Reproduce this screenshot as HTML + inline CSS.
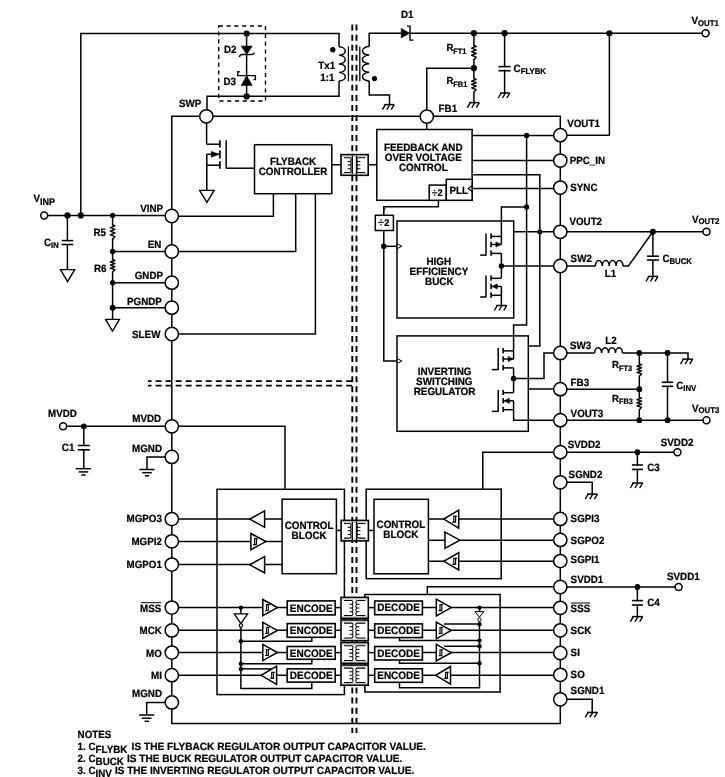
<!DOCTYPE html>
<html><head><meta charset="utf-8"><title>Block diagram</title>
<style>
html,body{margin:0;padding:0;background:#fff;}
body{width:725px;height:777px;overflow:hidden;}
svg{display:block;will-change:transform;}
text{font-family:"Liberation Sans",sans-serif;font-weight:bold;fill:#000;stroke:#000;stroke-width:0.22px;text-rendering:geometricPrecision;}
</style></head><body>
<svg width="725" height="777" viewBox="0 0 725 777">
<rect x="0" y="0" width="725" height="777" fill="#fff"/>
<line x1="352.30" y1="24.60" x2="352.30" y2="733.00" stroke="#000" stroke-width="1.9" stroke-dasharray="6.0 4.045"/>
<line x1="356.50" y1="24.60" x2="356.50" y2="733.00" stroke="#000" stroke-width="1.9" stroke-dasharray="6.0 4.045"/>
<line x1="147.90" y1="381.10" x2="357.40" y2="381.10" stroke="#000" stroke-width="1.8" stroke-dasharray="5.9 4.13" stroke-dashoffset="2.3"/>
<line x1="147.90" y1="385.60" x2="353.20" y2="385.60" stroke="#000" stroke-width="1.8" stroke-dasharray="5.9 4.13" stroke-dashoffset="2.3"/>
<polyline points="206.30,116.30 171.80,116.30 171.80,723.50 560.30,723.50 560.30,116.30 206.30,116.30" fill="none" stroke="#000" stroke-width="1.5" />
<polyline points="80.80,215.40 80.80,33.40 339.00,33.40 339.00,46.80" fill="none" stroke="#000" stroke-width="1.5" />
<polyline points="339.00,81.00 339.00,96.30 207.00,96.30 207.00,116.30" fill="none" stroke="#000" stroke-width="1.5" />
<path d="M339.00,46.80 a6.60,4.28 0 0 1 0,8.55 a6.60,4.28 0 0 1 0,8.55 a6.60,4.28 0 0 1 0,8.55 a6.60,4.28 0 0 1 0,8.55" fill="none" stroke="#000" stroke-width="1.5" />
<circle cx="332.80" cy="49.70" r="2.7" fill="#000"/>
<line x1="348.40" y1="46.50" x2="348.40" y2="81.30" stroke="#000" stroke-width="1.3" />
<line x1="359.80" y1="46.50" x2="359.80" y2="81.30" stroke="#000" stroke-width="1.3" />
<path d="M369.20,46.50 a6.80,4.30 0 0 0 0,8.60 a6.80,4.30 0 0 0 0,8.60 a6.80,4.30 0 0 0 0,8.60 a6.80,4.30 0 0 0 0,8.60" fill="none" stroke="#000" stroke-width="1.5" />
<polyline points="369.20,46.50 369.20,33.20 401.00,33.20" fill="none" stroke="#000" stroke-width="1.5" />
<polyline points="369.20,80.90 369.20,95.00 389.50,95.00 389.50,104.60" fill="none" stroke="#000" stroke-width="1.5" />
<line x1="384.20" y1="104.60" x2="394.20" y2="104.60" stroke="#000" stroke-width="1.5" />
<line x1="385.40" y1="104.60" x2="382.40" y2="109.60" stroke="#000" stroke-width="1.4" />
<line x1="389.80" y1="104.60" x2="386.80" y2="109.60" stroke="#000" stroke-width="1.4" />
<line x1="394.20" y1="104.60" x2="391.20" y2="109.60" stroke="#000" stroke-width="1.4" />
<circle cx="374.50" cy="78.60" r="2.6" fill="#000"/>
<rect x="218.70" y="26.00" width="46.80" height="75.00" fill="none" stroke="#000" stroke-width="1.4" stroke-dasharray="4.2 3.6"/>
<line x1="246.60" y1="33.40" x2="246.60" y2="96.30" stroke="#000" stroke-width="1.5" />
<circle cx="246.60" cy="33.50" r="3.1" fill="#000"/>
<circle cx="246.60" cy="96.40" r="3.1" fill="#000"/>
<path d="M241.2,46.1 H252.2 L246.7,54.6 Z" fill="#000" stroke="#000" stroke-width="0.6" />
<path d="M239.4,57.2 q0.4,-2.6 2.6,-2.7 H251.6 q2.4,-0.1 2.8,-1.8" fill="none" stroke="#000" stroke-width="1.4" />
<path d="M241.2,85.4 H252.2 L246.7,75.8 Z" fill="#000" stroke="#000" stroke-width="0.6" />
<path d="M239.8,71.8 H237.8 V75.6 H255.4 V79.6 H253.6" fill="none" stroke="#000" stroke-width="1.4" />
<text transform="translate(224.00,52.50) scale(1,1.07)" font-size="9.8" text-anchor="start" >D2</text>
<text transform="translate(223.40,84.70) scale(1,1.07)" font-size="9.8" text-anchor="start" >D3</text>
<text transform="translate(335.20,68.50) scale(1,1.07)" font-size="9.8" text-anchor="end" >Tx1</text>
<text transform="translate(334.40,80.90) scale(1,1.07)" font-size="9.8" text-anchor="end" >1:1</text>
<text transform="translate(201.30,107.40) scale(1,1.07)" font-size="9.8" text-anchor="end" >SWP</text>
<line x1="409.00" y1="33.20" x2="705.60" y2="33.20" stroke="#000" stroke-width="1.5" />
<path d="M401.2,28.4 V38 L409.6,33.2 Z" fill="#000" stroke="#000" stroke-width="0.6" />
<path d="M406.9,26.1 H410 V40.1 H413.5" fill="none" stroke="#000" stroke-width="1.4" />
<text transform="translate(400.90,17.80) scale(1,1.07)" font-size="9.8" text-anchor="start" >D1</text>
<circle cx="473.90" cy="33.20" r="3.1" fill="#000"/>
<circle cx="504.60" cy="33.20" r="3.1" fill="#000"/>
<circle cx="609.40" cy="33.30" r="3.1" fill="#000"/>
<circle cx="705.60" cy="33.30" r="3.5" fill="#fff" stroke="#000" stroke-width="1.5"/>
<text transform="translate(691.40,24.00) scale(1,1.07)" font-size="9.8" text-anchor="start">V<tspan font-size="7.8" dy="1.50">OUT1</tspan></text>
<line x1="473.90" y1="33.20" x2="473.90" y2="46.20" stroke="#000" stroke-width="1.5" />
<polyline points="473.90,45.50 476.20,46.39 471.60,48.16 476.20,49.94 471.60,51.71 476.20,53.49 471.60,55.26 476.20,57.04 473.90,59.70" fill="none" stroke="#000" stroke-width="1.4" stroke-linejoin="round"/>
<line x1="473.90" y1="59.00" x2="473.90" y2="79.20" stroke="#000" stroke-width="1.5" />
<polyline points="473.90,78.50 476.20,79.35 471.60,81.05 476.20,82.75 471.60,84.45 476.20,86.15 471.60,87.85 476.20,89.55 473.90,92.10" fill="none" stroke="#000" stroke-width="1.4" stroke-linejoin="round"/>
<line x1="473.90" y1="91.40" x2="473.90" y2="102.60" stroke="#000" stroke-width="1.5" />
<line x1="469.10" y1="102.60" x2="479.30" y2="102.60" stroke="#000" stroke-width="1.5" />
<line x1="470.30" y1="102.60" x2="467.30" y2="107.60" stroke="#000" stroke-width="1.4" />
<line x1="474.80" y1="102.60" x2="471.80" y2="107.60" stroke="#000" stroke-width="1.4" />
<line x1="479.30" y1="102.60" x2="476.30" y2="107.60" stroke="#000" stroke-width="1.4" />
<circle cx="473.90" cy="68.20" r="3.1" fill="#000"/>
<polyline points="473.90,68.20 426.80,68.20 426.80,116.30" fill="none" stroke="#000" stroke-width="1.5" />
<text transform="translate(446.40,51.20) scale(1,1.07)" font-size="9.6" text-anchor="start">R<tspan font-size="7.4" dy="2.24">FT1</tspan></text>
<text transform="translate(446.40,84.20) scale(1,1.07)" font-size="9.6" text-anchor="start">R<tspan font-size="7.4" dy="2.24">FB1</tspan></text>
<line x1="504.60" y1="33.20" x2="504.60" y2="66.60" stroke="#000" stroke-width="1.5" />
<line x1="498.50" y1="66.60" x2="510.70" y2="66.60" stroke="#000" stroke-width="1.6" />
<line x1="498.50" y1="70.70" x2="510.70" y2="70.70" stroke="#000" stroke-width="1.6" />
<line x1="504.60" y1="70.70" x2="504.60" y2="93.00" stroke="#000" stroke-width="1.5" />
<line x1="500.00" y1="93.00" x2="509.80" y2="93.00" stroke="#000" stroke-width="1.5" />
<line x1="501.20" y1="93.00" x2="498.20" y2="98.00" stroke="#000" stroke-width="1.4" />
<line x1="505.50" y1="93.00" x2="502.50" y2="98.00" stroke="#000" stroke-width="1.4" />
<line x1="509.80" y1="93.00" x2="506.80" y2="98.00" stroke="#000" stroke-width="1.4" />
<text transform="translate(513.60,72.00) scale(1,1.07)" font-size="9.8" text-anchor="start">C<tspan font-size="7.8" dy="1.87">FLYBK</tspan></text>
<polyline points="609.40,33.30 609.40,135.20 560.30,135.20" fill="none" stroke="#000" stroke-width="1.5" />
<line x1="44.20" y1="215.40" x2="171.80" y2="215.40" stroke="#000" stroke-width="1.5" />
<circle cx="44.20" cy="215.40" r="3.5" fill="#fff" stroke="#000" stroke-width="1.5"/>
<circle cx="67.40" cy="215.40" r="3.1" fill="#000"/>
<circle cx="80.80" cy="215.40" r="3.1" fill="#000"/>
<circle cx="112.60" cy="215.40" r="2.6" fill="#000"/>
<text transform="translate(33.40,202.30) scale(1,1.07)" font-size="9.8" text-anchor="start">V<tspan font-size="9.0" dy="2.80">INP</tspan></text>
<line x1="67.40" y1="215.40" x2="67.40" y2="240.60" stroke="#000" stroke-width="1.5" />
<line x1="61.60" y1="240.60" x2="73.20" y2="240.60" stroke="#000" stroke-width="1.6" />
<line x1="61.60" y1="244.50" x2="73.20" y2="244.50" stroke="#000" stroke-width="1.6" />
<line x1="67.40" y1="244.50" x2="67.40" y2="269.60" stroke="#000" stroke-width="1.5" />
<path d="M60.50,269.60 H74.70 L67.60,281.60 Z" fill="#fff" stroke="#000" stroke-width="1.4" />
<text transform="translate(44.00,245.80) scale(1,1.07)" font-size="9.8" text-anchor="start">C<tspan font-size="7.6" dy="1.87">IN</tspan></text>
<line x1="112.60" y1="215.40" x2="112.60" y2="225.60" stroke="#000" stroke-width="1.5" />
<polyline points="112.60,224.90 114.90,225.80 110.30,227.60 114.90,229.40 110.30,231.20 114.90,233.00 110.30,234.80 114.90,236.60 112.60,239.30" fill="none" stroke="#000" stroke-width="1.4" stroke-linejoin="round"/>
<line x1="112.60" y1="238.60" x2="112.60" y2="260.40" stroke="#000" stroke-width="1.5" />
<polyline points="112.60,259.70 114.90,260.47 110.30,262.02 114.90,263.57 110.30,265.12 114.90,266.68 110.30,268.23 114.90,269.78 112.60,272.10" fill="none" stroke="#000" stroke-width="1.4" stroke-linejoin="round"/>
<line x1="112.60" y1="271.40" x2="112.60" y2="319.40" stroke="#000" stroke-width="1.5" />
<circle cx="112.60" cy="251.50" r="2.7" fill="#000"/>
<circle cx="112.60" cy="282.80" r="2.7" fill="#000"/>
<circle cx="112.60" cy="307.80" r="3.0" fill="#000"/>
<line x1="112.60" y1="251.50" x2="171.80" y2="251.50" stroke="#000" stroke-width="1.5" />
<line x1="112.60" y1="282.80" x2="171.80" y2="282.80" stroke="#000" stroke-width="1.5" />
<line x1="112.60" y1="307.80" x2="171.80" y2="307.80" stroke="#000" stroke-width="1.5" />
<path d="M105.60,319.40 H119.40 L112.50,331.20 Z" fill="#fff" stroke="#000" stroke-width="1.4" />
<text transform="translate(93.40,236.00) scale(1,1.07)" font-size="9.8" text-anchor="start" >R5</text>
<text transform="translate(93.90,271.50) scale(1,1.07)" font-size="9.8" text-anchor="start" >R6</text>
<line x1="63.10" y1="426.30" x2="171.80" y2="426.30" stroke="#000" stroke-width="1.5" />
<circle cx="63.10" cy="426.30" r="3.5" fill="#fff" stroke="#000" stroke-width="1.5"/>
<circle cx="83.80" cy="426.30" r="2.9" fill="#000"/>
<line x1="83.80" y1="426.30" x2="83.80" y2="445.50" stroke="#000" stroke-width="1.5" />
<line x1="77.80" y1="445.50" x2="89.80" y2="445.50" stroke="#000" stroke-width="1.6" />
<line x1="77.80" y1="449.80" x2="89.80" y2="449.80" stroke="#000" stroke-width="1.6" />
<line x1="83.80" y1="449.80" x2="83.80" y2="468.70" stroke="#000" stroke-width="1.5" />
<line x1="75.80" y1="468.70" x2="91.00" y2="468.70" stroke="#000" stroke-width="1.5" />
<line x1="78.60" y1="471.90" x2="88.20" y2="471.90" stroke="#000" stroke-width="1.5" />
<line x1="81.20" y1="475.00" x2="85.60" y2="475.00" stroke="#000" stroke-width="1.5" />
<text transform="translate(48.00,417.10) scale(1,1.07)" font-size="9.8" text-anchor="start" >MVDD</text>
<text transform="translate(61.80,450.70) scale(1,1.07)" font-size="9.8" text-anchor="start" >C1</text>
<polyline points="171.80,456.90 147.00,456.90 147.00,469.50" fill="none" stroke="#000" stroke-width="1.5" />
<line x1="139.40" y1="469.50" x2="154.60" y2="469.50" stroke="#000" stroke-width="1.5" />
<line x1="142.20" y1="472.70" x2="151.80" y2="472.70" stroke="#000" stroke-width="1.5" />
<line x1="144.80" y1="475.80" x2="149.20" y2="475.80" stroke="#000" stroke-width="1.5" />
<polyline points="171.80,702.40 146.70,702.40 146.70,715.00" fill="none" stroke="#000" stroke-width="1.5" />
<line x1="139.10" y1="715.00" x2="154.30" y2="715.00" stroke="#000" stroke-width="1.5" />
<line x1="141.90" y1="718.20" x2="151.50" y2="718.20" stroke="#000" stroke-width="1.5" />
<line x1="144.50" y1="721.30" x2="148.90" y2="721.30" stroke="#000" stroke-width="1.5" />
<line x1="206.60" y1="116.30" x2="206.60" y2="144.20" stroke="#000" stroke-width="1.5" />
<line x1="206.60" y1="144.20" x2="219.90" y2="144.20" stroke="#000" stroke-width="1.5" />
<line x1="219.90" y1="140.30" x2="219.90" y2="147.60" stroke="#000" stroke-width="1.7" />
<line x1="219.90" y1="150.60" x2="219.90" y2="158.40" stroke="#000" stroke-width="1.7" />
<line x1="219.90" y1="161.20" x2="219.90" y2="168.80" stroke="#000" stroke-width="1.7" />
<line x1="226.20" y1="140.30" x2="226.20" y2="168.50" stroke="#000" stroke-width="1.5" />
<line x1="226.20" y1="168.20" x2="254.50" y2="168.20" stroke="#000" stroke-width="1.5" />
<line x1="206.80" y1="154.30" x2="219.90" y2="154.30" stroke="#000" stroke-width="1.5" />
<path d="M219.4,154.3 L211.2,151.4 V157.2 Z" fill="#000" stroke="#000" stroke-width="0.5" />
<polyline points="219.90,165.20 206.80,165.20" fill="none" stroke="#000" stroke-width="1.5" />
<line x1="206.80" y1="154.30" x2="206.80" y2="190.40" stroke="#000" stroke-width="1.5" />
<path d="M199.70,190.40 H214.10 L206.90,202.40 Z" fill="#fff" stroke="#000" stroke-width="1.4" />
<rect x="254.50" y="144.70" width="77.30" height="49.00" fill="#fff" stroke="#000" stroke-width="1.5" />
<text transform="translate(293.10,164.70) scale(1,1.07)" font-size="9.9" text-anchor="middle" >FLYBACK</text>
<text transform="translate(293.00,174.80) scale(1,1.07)" font-size="9.9" text-anchor="middle" >CONTROLLER</text>
<polyline points="273.40,193.70 273.40,216.20 171.80,216.20" fill="none" stroke="#000" stroke-width="1.5" />
<polyline points="295.70,193.70 295.70,251.50 171.80,251.50" fill="none" stroke="#000" stroke-width="1.5" />
<polyline points="315.40,193.70 315.40,334.00 171.80,334.00" fill="none" stroke="#000" stroke-width="1.5" />
<line x1="331.80" y1="164.70" x2="376.80" y2="164.70" stroke="#000" stroke-width="1.5" />
<rect x="341.00" y="154.60" width="27.20" height="20.70" fill="#fff" stroke="#000" stroke-width="1.6" />
<line x1="352.30" y1="155.60" x2="352.30" y2="174.30" stroke="#000" stroke-width="1.3" />
<line x1="356.50" y1="155.60" x2="356.50" y2="174.30" stroke="#000" stroke-width="1.3" />
<line x1="342.00" y1="156.30" x2="367.20" y2="156.30" stroke="#000" stroke-width="0.5" stroke-opacity="0.45"/>
<line x1="342.00" y1="173.60" x2="367.20" y2="173.60" stroke="#000" stroke-width="0.5" stroke-opacity="0.45"/>
<path d="M343.90,157.70 H349.80 a1.4,1.85 0 0 1 0,3.70 h-2.2 h2.2 a1.4,1.85 0 0 1 0,3.70 h-2.2 h2.2 a1.4,1.85 0 0 1 0,3.70 h-2.2 h2.2 a1.4,1.85 0 0 1 0,3.70 H343.90" fill="none" stroke="#000" stroke-width="1.05" />
<path d="M365.30,157.70 H358.20 a1.4,1.85 0 0 0 0,3.70 h2.2 h-2.2 a1.4,1.85 0 0 0 0,3.70 h2.2 h-2.2 a1.4,1.85 0 0 0 0,3.70 h2.2 h-2.2 a1.4,1.85 0 0 0 0,3.70 H365.30" fill="none" stroke="#000" stroke-width="1.05" />
<line x1="426.80" y1="116.30" x2="426.80" y2="129.50" stroke="#000" stroke-width="1.5" />
<rect x="376.80" y="129.50" width="95.30" height="70.80" fill="#fff" stroke="#000" stroke-width="1.5" />
<text transform="translate(423.30,150.60) scale(1,1.07)" font-size="9.9" text-anchor="middle" >FEEDBACK AND</text>
<text transform="translate(423.30,160.70) scale(1,1.07)" font-size="9.9" text-anchor="middle" >OVER VOLTAGE</text>
<text transform="translate(423.30,170.80) scale(1,1.07)" font-size="9.9" text-anchor="middle" >CONTROL</text>
<rect x="429.20" y="185.10" width="17.10" height="15.20" fill="#fff" stroke="#000" stroke-width="1.5" />
<rect x="446.30" y="179.30" width="25.80" height="21.00" fill="#fff" stroke="#000" stroke-width="1.5" />
<line x1="432.00" y1="192.80" x2="437.40" y2="192.80" stroke="#000" stroke-width="1.1" />
<circle cx="434.70" cy="190.50" r="0.8" fill="#000"/>
<circle cx="434.70" cy="195.10" r="0.8" fill="#000"/>
<text transform="translate(437.60,196.00) scale(1,1.07)" font-size="9.2" text-anchor="start" >2</text>
<text transform="translate(449.40,193.50) scale(1,1.07)" font-size="9.8" text-anchor="start" >PLL</text>
<path d="M472.1,185.5 L468.2,188.4 L472.1,191.3" fill="none" stroke="#000" stroke-width="1.2" />
<line x1="472.10" y1="135.40" x2="560.30" y2="135.40" stroke="#000" stroke-width="1.5" />
<circle cx="526.60" cy="135.40" r="2.6" fill="#000"/>
<line x1="472.10" y1="160.60" x2="560.30" y2="160.60" stroke="#000" stroke-width="1.5" />
<polyline points="472.10,174.70 539.80,174.70 539.80,346.00 528.30,346.00" fill="none" stroke="#000" stroke-width="1.5" />
<line x1="472.10" y1="188.40" x2="560.30" y2="188.40" stroke="#000" stroke-width="1.5" />
<polyline points="526.60,135.40 526.60,325.10 513.60,325.10 513.60,359.00" fill="none" stroke="#000" stroke-width="1.5" />
<polyline points="438.40,200.30 438.40,206.70 383.80,206.70 383.80,215.20" fill="none" stroke="#000" stroke-width="1.5" />
<rect x="375.30" y="215.30" width="18.10" height="15.20" fill="#fff" stroke="#000" stroke-width="1.5" />
<path d="M383.8,210.6 l1.6,-2.6" fill="none" stroke="#000" stroke-width="0.9" />
<line x1="378.30" y1="222.40" x2="383.70" y2="222.40" stroke="#000" stroke-width="1.1" />
<circle cx="381.00" cy="220.10" r="0.8" fill="#000"/>
<circle cx="381.00" cy="224.70" r="0.8" fill="#000"/>
<text transform="translate(384.20,225.60) scale(1,1.07)" font-size="9.2" text-anchor="start" >2</text>
<polyline points="383.80,230.60 383.80,361.00 397.00,361.00" fill="none" stroke="#000" stroke-width="1.5" />
<circle cx="383.80" cy="246.30" r="2.8" fill="#000"/>
<line x1="383.80" y1="246.30" x2="397.00" y2="246.30" stroke="#000" stroke-width="1.5" />
<rect x="397.00" y="221.00" width="116.70" height="97.00" fill="none" stroke="#000" stroke-width="1.5" />
<path d="M397.2,243.9 L401.9,246.3 L397.2,248.7 Z" fill="#fff" stroke="#000" stroke-width="1.0" />
<text transform="translate(438.80,264.90) scale(1,1.07)" font-size="9.9" text-anchor="middle" >HIGH</text>
<text transform="translate(438.90,274.90) scale(1,1.07)" font-size="9.9" text-anchor="middle" >EFFICIENCY</text>
<text transform="translate(439.30,285.00) scale(1,1.07)" font-size="9.9" text-anchor="middle" >BUCK</text>
<polyline points="526.60,206.90 501.40,206.90 501.40,244.50" fill="none" stroke="#000" stroke-width="1.5" />
<circle cx="526.60" cy="206.90" r="2.6" fill="#000"/>
<line x1="513.70" y1="231.80" x2="706.50" y2="231.80" stroke="#000" stroke-width="1.5" />
<circle cx="539.80" cy="231.80" r="2.6" fill="#000"/>
<line x1="486.00" y1="233.60" x2="486.00" y2="255.40" stroke="#000" stroke-width="1.5" />
<line x1="480.20" y1="255.10" x2="486.00" y2="255.10" stroke="#000" stroke-width="1.5" />
<line x1="491.10" y1="233.60" x2="491.10" y2="238.80" stroke="#000" stroke-width="1.7" />
<line x1="491.10" y1="241.80" x2="491.10" y2="247.20" stroke="#000" stroke-width="1.7" />
<line x1="491.10" y1="250.60" x2="491.10" y2="255.80" stroke="#000" stroke-width="1.7" />
<line x1="491.10" y1="236.40" x2="501.40" y2="236.40" stroke="#000" stroke-width="1.5" />
<line x1="491.10" y1="244.50" x2="501.40" y2="244.50" stroke="#000" stroke-width="1.5" />
<line x1="491.10" y1="253.40" x2="501.40" y2="253.40" stroke="#000" stroke-width="1.5" />
<path d="M501.10,244.50 L495.90,241.90 L495.90,247.10 Z" fill="#000" stroke="#000" stroke-width="0.5" />
<polyline points="501.40,253.40 501.40,278.20" fill="none" stroke="#000" stroke-width="1.5" />
<circle cx="501.40" cy="266.00" r="2.7" fill="#000"/>
<line x1="501.40" y1="266.00" x2="595.40" y2="266.00" stroke="#000" stroke-width="1.5" />
<line x1="486.00" y1="275.50" x2="486.00" y2="297.30" stroke="#000" stroke-width="1.5" />
<line x1="480.20" y1="297.00" x2="486.00" y2="297.00" stroke="#000" stroke-width="1.5" />
<line x1="491.10" y1="275.50" x2="491.10" y2="280.70" stroke="#000" stroke-width="1.7" />
<line x1="491.10" y1="283.70" x2="491.10" y2="289.10" stroke="#000" stroke-width="1.7" />
<line x1="491.10" y1="292.50" x2="491.10" y2="297.70" stroke="#000" stroke-width="1.7" />
<line x1="491.10" y1="278.30" x2="501.40" y2="278.30" stroke="#000" stroke-width="1.5" />
<line x1="491.10" y1="286.40" x2="501.40" y2="286.40" stroke="#000" stroke-width="1.5" />
<line x1="491.10" y1="295.30" x2="501.40" y2="295.30" stroke="#000" stroke-width="1.5" />
<path d="M492.10,286.40 L497.30,283.80 L497.30,289.00 Z" fill="#000" stroke="#000" stroke-width="0.5" />
<line x1="501.40" y1="286.40" x2="501.40" y2="305.50" stroke="#000" stroke-width="1.5" />
<line x1="496.10" y1="305.50" x2="506.70" y2="305.50" stroke="#000" stroke-width="1.5" />
<line x1="497.30" y1="305.50" x2="494.30" y2="310.50" stroke="#000" stroke-width="1.4" />
<line x1="502.00" y1="305.50" x2="499.00" y2="310.50" stroke="#000" stroke-width="1.4" />
<line x1="506.70" y1="305.50" x2="503.70" y2="310.50" stroke="#000" stroke-width="1.4" />
<rect x="397.00" y="335.90" width="131.30" height="95.40" fill="none" stroke="#000" stroke-width="1.5" />
<path d="M397.2,358.6 L401.9,361 L397.2,363.4 Z" fill="#fff" stroke="#000" stroke-width="1.0" />
<text transform="translate(444.60,374.70) scale(1,1.07)" font-size="9.9" text-anchor="middle" >INVERTING</text>
<text transform="translate(444.30,384.80) scale(1,1.07)" font-size="9.9" text-anchor="middle" >SWITCHING</text>
<text transform="translate(444.50,394.80) scale(1,1.07)" font-size="9.9" text-anchor="middle" >REGULATOR</text>
<line x1="498.20" y1="348.10" x2="498.20" y2="369.90" stroke="#000" stroke-width="1.5" />
<line x1="491.80" y1="369.60" x2="498.20" y2="369.60" stroke="#000" stroke-width="1.5" />
<line x1="503.20" y1="348.10" x2="503.20" y2="353.30" stroke="#000" stroke-width="1.7" />
<line x1="503.20" y1="356.30" x2="503.20" y2="361.70" stroke="#000" stroke-width="1.7" />
<line x1="503.20" y1="365.10" x2="503.20" y2="370.30" stroke="#000" stroke-width="1.7" />
<line x1="503.20" y1="350.90" x2="513.60" y2="350.90" stroke="#000" stroke-width="1.5" />
<line x1="503.20" y1="359.00" x2="513.60" y2="359.00" stroke="#000" stroke-width="1.5" />
<line x1="503.20" y1="367.90" x2="513.60" y2="367.90" stroke="#000" stroke-width="1.5" />
<path d="M513.30,359.00 L508.10,356.40 L508.10,361.60 Z" fill="#000" stroke="#000" stroke-width="0.5" />
<polyline points="513.60,367.90 513.60,392.50" fill="none" stroke="#000" stroke-width="1.5" />
<circle cx="513.60" cy="378.60" r="2.8" fill="#000"/>
<polyline points="513.60,378.60 544.00,378.60 544.00,353.10 560.30,353.10" fill="none" stroke="#000" stroke-width="1.5" />
<line x1="498.20" y1="389.90" x2="498.20" y2="411.70" stroke="#000" stroke-width="1.5" />
<line x1="491.80" y1="411.40" x2="498.20" y2="411.40" stroke="#000" stroke-width="1.5" />
<line x1="503.20" y1="389.90" x2="503.20" y2="395.10" stroke="#000" stroke-width="1.7" />
<line x1="503.20" y1="398.10" x2="503.20" y2="403.50" stroke="#000" stroke-width="1.7" />
<line x1="503.20" y1="406.90" x2="503.20" y2="412.10" stroke="#000" stroke-width="1.7" />
<line x1="503.20" y1="392.70" x2="513.60" y2="392.70" stroke="#000" stroke-width="1.5" />
<line x1="503.20" y1="400.80" x2="513.60" y2="400.80" stroke="#000" stroke-width="1.5" />
<line x1="503.20" y1="409.70" x2="513.60" y2="409.70" stroke="#000" stroke-width="1.5" />
<path d="M504.20,400.80 L509.40,398.20 L509.40,403.40 Z" fill="#000" stroke="#000" stroke-width="0.5" />
<polyline points="513.60,400.80 513.60,420.30 560.30,420.30" fill="none" stroke="#000" stroke-width="1.5" />
<line x1="528.30" y1="389.10" x2="560.30" y2="389.10" stroke="#000" stroke-width="1.5" />
<circle cx="652.90" cy="231.80" r="3.0" fill="#000"/>
<circle cx="706.50" cy="231.80" r="3.5" fill="#fff" stroke="#000" stroke-width="1.5"/>
<text transform="translate(692.00,222.60) scale(1,1.07)" font-size="9.8" text-anchor="start">V<tspan font-size="7.8" dy="1.50">OUT2</tspan></text>
<path d="M595.40,266.00 a3.45,5.60 0 0 1 6.90,0 a3.45,5.60 0 0 1 6.90,0 a3.45,5.60 0 0 1 6.90,0 a3.45,5.60 0 0 1 6.90,0" fill="none" stroke="#000" stroke-width="1.5" />
<polyline points="623.00,266.00 628.40,266.00 652.90,231.80" fill="none" stroke="#000" stroke-width="1.5" />
<line x1="652.90" y1="231.80" x2="652.90" y2="256.20" stroke="#000" stroke-width="1.5" />
<line x1="646.90" y1="256.20" x2="658.90" y2="256.20" stroke="#000" stroke-width="1.6" />
<line x1="646.90" y1="260.00" x2="658.90" y2="260.00" stroke="#000" stroke-width="1.6" />
<line x1="652.90" y1="260.00" x2="652.90" y2="276.40" stroke="#000" stroke-width="1.5" />
<line x1="647.80" y1="276.40" x2="658.00" y2="276.40" stroke="#000" stroke-width="1.5" />
<line x1="649.00" y1="276.40" x2="646.00" y2="281.40" stroke="#000" stroke-width="1.4" />
<line x1="653.50" y1="276.40" x2="650.50" y2="281.40" stroke="#000" stroke-width="1.4" />
<line x1="658.00" y1="276.40" x2="655.00" y2="281.40" stroke="#000" stroke-width="1.4" />
<text transform="translate(604.80,276.50) scale(1,1.07)" font-size="9.8" text-anchor="start" >L1</text>
<text transform="translate(662.40,261.70) scale(1,1.07)" font-size="9.8" text-anchor="start">C<tspan font-size="7.8" dy="1.87">BUCK</tspan></text>
<line x1="560.30" y1="353.00" x2="594.60" y2="353.00" stroke="#000" stroke-width="1.5" />
<path d="M594.60,353.00 a3.49,5.60 0 0 1 6.97,0 a3.49,5.60 0 0 1 6.97,0 a3.49,5.60 0 0 1 6.97,0 a3.49,5.60 0 0 1 6.97,0" fill="none" stroke="#000" stroke-width="1.5" />
<polyline points="622.50,353.00 688.00,353.00 688.00,359.10" fill="none" stroke="#000" stroke-width="1.5" />
<line x1="682.30" y1="359.10" x2="692.70" y2="359.10" stroke="#000" stroke-width="1.5" />
<line x1="683.50" y1="359.10" x2="680.50" y2="364.10" stroke="#000" stroke-width="1.4" />
<line x1="688.10" y1="359.10" x2="685.10" y2="364.10" stroke="#000" stroke-width="1.4" />
<line x1="692.70" y1="359.10" x2="689.70" y2="364.10" stroke="#000" stroke-width="1.4" />
<circle cx="639.30" cy="353.00" r="2.9" fill="#000"/>
<circle cx="667.50" cy="353.00" r="2.9" fill="#000"/>
<text transform="translate(605.30,343.60) scale(1,1.07)" font-size="9.8" text-anchor="start" >L2</text>
<line x1="639.30" y1="353.00" x2="639.30" y2="364.60" stroke="#000" stroke-width="1.5" />
<polyline points="639.30,363.90 641.60,364.67 637.00,366.22 641.60,367.77 637.00,369.32 641.60,370.88 637.00,372.43 641.60,373.98 639.30,376.30" fill="none" stroke="#000" stroke-width="1.4" stroke-linejoin="round"/>
<line x1="639.30" y1="375.60" x2="639.30" y2="398.00" stroke="#000" stroke-width="1.5" />
<polyline points="639.30,397.30 641.60,398.07 637.00,399.62 641.60,401.18 637.00,402.73 641.60,404.28 637.00,405.83 641.60,407.38 639.30,409.70" fill="none" stroke="#000" stroke-width="1.4" stroke-linejoin="round"/>
<line x1="639.30" y1="409.00" x2="639.30" y2="420.20" stroke="#000" stroke-width="1.5" />
<circle cx="639.30" cy="389.20" r="2.9" fill="#000"/>
<circle cx="639.30" cy="420.20" r="2.9" fill="#000"/>
<line x1="560.30" y1="389.20" x2="639.30" y2="389.20" stroke="#000" stroke-width="1.5" />
<line x1="667.50" y1="353.00" x2="667.50" y2="382.30" stroke="#000" stroke-width="1.5" />
<line x1="661.80" y1="382.30" x2="673.20" y2="382.30" stroke="#000" stroke-width="1.6" />
<line x1="661.80" y1="386.30" x2="673.20" y2="386.30" stroke="#000" stroke-width="1.6" />
<line x1="667.50" y1="386.30" x2="667.50" y2="420.20" stroke="#000" stroke-width="1.5" />
<circle cx="667.50" cy="420.20" r="2.9" fill="#000"/>
<line x1="560.30" y1="420.20" x2="706.50" y2="420.20" stroke="#000" stroke-width="1.5" />
<circle cx="706.50" cy="420.20" r="3.5" fill="#fff" stroke="#000" stroke-width="1.5"/>
<text transform="translate(612.00,368.30) scale(1,1.07)" font-size="9.6" text-anchor="start">R<tspan font-size="7.4" dy="2.24">FT3</tspan></text>
<text transform="translate(612.00,401.50) scale(1,1.07)" font-size="9.6" text-anchor="start">R<tspan font-size="7.4" dy="2.24">FB3</tspan></text>
<text transform="translate(676.20,388.80) scale(1,1.07)" font-size="9.8" text-anchor="start">C<tspan font-size="7.8" dy="1.87">INV</tspan></text>
<text transform="translate(692.00,411.50) scale(1,1.07)" font-size="9.8" text-anchor="start">V<tspan font-size="7.8" dy="1.50">OUT3</tspan></text>
<line x1="560.30" y1="452.20" x2="677.40" y2="452.20" stroke="#000" stroke-width="1.5" />
<circle cx="677.40" cy="452.20" r="3.5" fill="#fff" stroke="#000" stroke-width="1.5"/>
<circle cx="637.40" cy="452.20" r="2.9" fill="#000"/>
<line x1="637.40" y1="452.20" x2="637.40" y2="465.00" stroke="#000" stroke-width="1.5" />
<line x1="631.90" y1="465.00" x2="642.90" y2="465.00" stroke="#000" stroke-width="1.6" />
<line x1="631.90" y1="469.40" x2="642.90" y2="469.40" stroke="#000" stroke-width="1.6" />
<line x1="637.40" y1="469.40" x2="637.40" y2="483.00" stroke="#000" stroke-width="1.5" />
<line x1="632.10" y1="483.00" x2="642.70" y2="483.00" stroke="#000" stroke-width="1.5" />
<line x1="633.30" y1="483.00" x2="630.30" y2="488.00" stroke="#000" stroke-width="1.4" />
<line x1="638.00" y1="483.00" x2="635.00" y2="488.00" stroke="#000" stroke-width="1.4" />
<line x1="642.70" y1="483.00" x2="639.70" y2="488.00" stroke="#000" stroke-width="1.4" />
<text transform="translate(647.20,471.30) scale(1,1.07)" font-size="9.8" text-anchor="start" >C3</text>
<text transform="translate(660.80,446.10) scale(1,1.07)" font-size="9.8" text-anchor="start" >SVDD2</text>
<polyline points="560.30,482.30 592.20,482.30 592.20,494.10" fill="none" stroke="#000" stroke-width="1.5" />
<line x1="587.00" y1="494.10" x2="597.40" y2="494.10" stroke="#000" stroke-width="1.5" />
<line x1="588.20" y1="494.10" x2="585.20" y2="499.10" stroke="#000" stroke-width="1.4" />
<line x1="592.80" y1="494.10" x2="589.80" y2="499.10" stroke="#000" stroke-width="1.4" />
<line x1="597.40" y1="494.10" x2="594.40" y2="499.10" stroke="#000" stroke-width="1.4" />
<line x1="560.30" y1="587.00" x2="678.60" y2="587.00" stroke="#000" stroke-width="1.5" />
<circle cx="678.60" cy="587.00" r="3.5" fill="#fff" stroke="#000" stroke-width="1.5"/>
<circle cx="637.40" cy="587.00" r="2.9" fill="#000"/>
<line x1="637.40" y1="587.00" x2="637.40" y2="600.60" stroke="#000" stroke-width="1.5" />
<line x1="631.90" y1="600.60" x2="642.90" y2="600.60" stroke="#000" stroke-width="1.6" />
<line x1="631.90" y1="605.00" x2="642.90" y2="605.00" stroke="#000" stroke-width="1.6" />
<line x1="637.40" y1="605.00" x2="637.40" y2="616.60" stroke="#000" stroke-width="1.5" />
<line x1="632.10" y1="616.60" x2="642.70" y2="616.60" stroke="#000" stroke-width="1.5" />
<line x1="633.30" y1="616.60" x2="630.30" y2="621.60" stroke="#000" stroke-width="1.4" />
<line x1="638.00" y1="616.60" x2="635.00" y2="621.60" stroke="#000" stroke-width="1.4" />
<line x1="642.70" y1="616.60" x2="639.70" y2="621.60" stroke="#000" stroke-width="1.4" />
<text transform="translate(647.20,605.60) scale(1,1.07)" font-size="9.8" text-anchor="start" >C4</text>
<text transform="translate(667.00,579.70) scale(1,1.07)" font-size="9.8" text-anchor="start" >SVDD1</text>
<polyline points="560.30,699.30 592.20,699.30 592.20,712.40" fill="none" stroke="#000" stroke-width="1.5" />
<line x1="587.00" y1="712.40" x2="597.40" y2="712.40" stroke="#000" stroke-width="1.5" />
<line x1="588.20" y1="712.40" x2="585.20" y2="717.40" stroke="#000" stroke-width="1.4" />
<line x1="592.80" y1="712.40" x2="589.80" y2="717.40" stroke="#000" stroke-width="1.4" />
<line x1="597.40" y1="712.40" x2="594.40" y2="717.40" stroke="#000" stroke-width="1.4" />
<polyline points="171.80,426.30 285.00,426.30 285.00,489.30" fill="none" stroke="#000" stroke-width="1.5" />
<rect x="217.00" y="489.30" width="127.40" height="205.30" fill="none" stroke="#000" stroke-width="1.5" />
<rect x="282.10" y="499.20" width="54.30" height="74.50" fill="#fff" stroke="#000" stroke-width="1.5" />
<text transform="translate(309.10,529.00) scale(1,1.07)" font-size="9.9" text-anchor="middle" >CONTROL</text>
<text transform="translate(309.10,539.00) scale(1,1.07)" font-size="9.9" text-anchor="middle" >BLOCK</text>
<line x1="171.80" y1="519.10" x2="282.10" y2="519.10" stroke="#000" stroke-width="1.5" />
<path d="M264.60,510.90 L249.80,519.10 L264.60,527.30 Z" fill="#fff" stroke="#000" stroke-width="1.5" />
<line x1="171.80" y1="541.40" x2="282.10" y2="541.40" stroke="#000" stroke-width="1.5" />
<path d="M250.90,533.50 L265.80,541.60 L250.90,549.70 Z" fill="#fff" stroke="#000" stroke-width="1.5" />
<path d="M253.10,544.60 H256.40 V538.60 H257.70 M254.60,544.60 V538.60 H256.40" fill="none" stroke="#000" stroke-width="1.15" />
<line x1="171.80" y1="564.60" x2="282.10" y2="564.60" stroke="#000" stroke-width="1.5" />
<path d="M264.60,556.60 L249.80,564.80 L264.60,573.00 Z" fill="#fff" stroke="#000" stroke-width="1.5" />
<line x1="336.40" y1="530.40" x2="341.00" y2="530.40" stroke="#000" stroke-width="1.5" />
<polyline points="560.30,452.20 482.80,452.20 482.80,489.20" fill="none" stroke="#000" stroke-width="1.5" />
<rect x="366.20" y="489.20" width="135.00" height="89.50" fill="none" stroke="#000" stroke-width="1.5" />
<rect x="374.00" y="499.30" width="54.40" height="74.50" fill="#fff" stroke="#000" stroke-width="1.5" />
<text transform="translate(400.90,527.80) scale(1,1.07)" font-size="9.9" text-anchor="middle" >CONTROL</text>
<text transform="translate(400.90,537.80) scale(1,1.07)" font-size="9.9" text-anchor="middle" >BLOCK</text>
<line x1="428.40" y1="519.10" x2="560.30" y2="519.10" stroke="#000" stroke-width="1.5" />
<path d="M458.70,510.10 L443.80,519.10 L458.70,528.10 Z" fill="#fff" stroke="#000" stroke-width="1.5" />
<path d="M452.30,522.10 H455.60 V516.10 H456.90 M453.80,522.10 V516.10 H455.60" fill="none" stroke="#000" stroke-width="1.15" />
<line x1="428.40" y1="540.30" x2="560.30" y2="540.30" stroke="#000" stroke-width="1.5" />
<path d="M445.00,532.10 L459.90,540.20 L445.00,548.30 Z" fill="#fff" stroke="#000" stroke-width="1.5" />
<line x1="428.40" y1="561.30" x2="560.30" y2="561.30" stroke="#000" stroke-width="1.5" />
<path d="M458.70,552.60 L443.80,561.30 L458.70,570.00 Z" fill="#fff" stroke="#000" stroke-width="1.5" />
<path d="M452.30,564.30 H455.60 V558.30 H456.90 M453.80,564.30 V558.30 H455.60" fill="none" stroke="#000" stroke-width="1.15" />
<line x1="368.00" y1="530.40" x2="374.00" y2="530.40" stroke="#000" stroke-width="1.5" />
<rect x="341.10" y="520.40" width="27.30" height="20.50" fill="#fff" stroke="#000" stroke-width="1.6" />
<line x1="352.30" y1="521.40" x2="352.30" y2="539.90" stroke="#000" stroke-width="1.3" />
<line x1="356.50" y1="521.40" x2="356.50" y2="539.90" stroke="#000" stroke-width="1.3" />
<line x1="342.10" y1="522.10" x2="367.40" y2="522.10" stroke="#000" stroke-width="0.5" stroke-opacity="0.45"/>
<line x1="342.10" y1="539.20" x2="367.40" y2="539.20" stroke="#000" stroke-width="0.5" stroke-opacity="0.45"/>
<path d="M344.00,523.50 H349.80 a1.4,1.83 0 0 1 0,3.65 h-2.2 h2.2 a1.4,1.83 0 0 1 0,3.65 h-2.2 h2.2 a1.4,1.83 0 0 1 0,3.65 h-2.2 h2.2 a1.4,1.83 0 0 1 0,3.65 H344.00" fill="none" stroke="#000" stroke-width="1.05" />
<path d="M365.50,523.50 H358.20 a1.4,1.83 0 0 0 0,3.65 h2.2 h-2.2 a1.4,1.83 0 0 0 0,3.65 h2.2 h-2.2 a1.4,1.83 0 0 0 0,3.65 h2.2 h-2.2 a1.4,1.83 0 0 0 0,3.65 H365.50" fill="none" stroke="#000" stroke-width="1.05" />
<polyline points="560.30,586.80 427.30,586.80 427.30,594.50" fill="none" stroke="#000" stroke-width="1.5" />
<rect x="364.90" y="594.50" width="135.20" height="97.50" fill="none" stroke="#000" stroke-width="1.5" />
<line x1="171.80" y1="607.60" x2="287.20" y2="607.60" stroke="#000" stroke-width="1.5" />
<line x1="335.20" y1="607.60" x2="341.00" y2="607.60" stroke="#000" stroke-width="1.5" />
<line x1="368.00" y1="607.60" x2="374.70" y2="607.60" stroke="#000" stroke-width="1.5" />
<line x1="422.40" y1="607.60" x2="560.30" y2="607.60" stroke="#000" stroke-width="1.5" />
<line x1="171.80" y1="630.30" x2="287.20" y2="630.30" stroke="#000" stroke-width="1.5" />
<line x1="335.20" y1="630.30" x2="341.00" y2="630.30" stroke="#000" stroke-width="1.5" />
<line x1="368.00" y1="630.30" x2="374.70" y2="630.30" stroke="#000" stroke-width="1.5" />
<line x1="422.40" y1="630.30" x2="560.30" y2="630.30" stroke="#000" stroke-width="1.5" />
<line x1="171.80" y1="652.60" x2="287.20" y2="652.60" stroke="#000" stroke-width="1.5" />
<line x1="335.20" y1="652.60" x2="341.00" y2="652.60" stroke="#000" stroke-width="1.5" />
<line x1="368.00" y1="652.60" x2="374.70" y2="652.60" stroke="#000" stroke-width="1.5" />
<line x1="422.40" y1="652.60" x2="560.30" y2="652.60" stroke="#000" stroke-width="1.5" />
<line x1="171.80" y1="675.30" x2="287.20" y2="675.30" stroke="#000" stroke-width="1.5" />
<line x1="335.20" y1="675.30" x2="341.00" y2="675.30" stroke="#000" stroke-width="1.5" />
<line x1="368.00" y1="675.30" x2="374.70" y2="675.30" stroke="#000" stroke-width="1.5" />
<line x1="422.40" y1="675.30" x2="560.30" y2="675.30" stroke="#000" stroke-width="1.5" />
<circle cx="240.90" cy="607.60" r="2.2" fill="#000"/>
<line x1="240.90" y1="607.60" x2="240.90" y2="613.80" stroke="#000" stroke-width="1.5" />
<path d="M234.3,613.8 H247.6 L240.9,623.6 Z" fill="#fff" stroke="#000" stroke-width="1.3" />
<circle cx="240.9" cy="625.5" r="1.7" fill="#fff" stroke="#000" stroke-width="1.1"/>
<polyline points="240.90,627.20 240.90,688.60 311.80,688.60 311.80,682.10" fill="none" stroke="#000" stroke-width="1.5" />
<circle cx="240.90" cy="641.30" r="2.2" fill="#000"/>
<polyline points="240.90,641.30 311.80,641.30 311.80,637.20" fill="none" stroke="#000" stroke-width="1.5" />
<circle cx="240.90" cy="663.70" r="2.2" fill="#000"/>
<polyline points="240.90,663.70 311.80,663.70 311.80,659.30" fill="none" stroke="#000" stroke-width="1.5" />
<circle cx="240.90" cy="668.90" r="2.2" fill="#000"/>
<line x1="240.90" y1="668.90" x2="271.50" y2="668.90" stroke="#000" stroke-width="1.5" />
<path d="M262.80,599.50 L277.40,607.60 L262.80,615.70 Z" fill="#fff" stroke="#000" stroke-width="1.5" />
<path d="M265.00,610.60 H268.30 V604.60 H269.60 M266.50,610.60 V604.60 H268.30" fill="none" stroke="#000" stroke-width="1.15" />
<path d="M262.80,622.30 L277.40,630.40 L262.80,638.50 Z" fill="#fff" stroke="#000" stroke-width="1.5" />
<path d="M265.00,633.40 H268.30 V627.40 H269.60 M266.50,633.40 V627.40 H268.30" fill="none" stroke="#000" stroke-width="1.15" />
<path d="M262.80,644.40 L277.40,652.50 L262.80,660.60 Z" fill="#fff" stroke="#000" stroke-width="1.5" />
<path d="M265.00,655.50 H268.30 V649.50 H269.60 M266.50,655.50 V649.50 H268.30" fill="none" stroke="#000" stroke-width="1.15" />
<path d="M276.60,666.10 L261.20,675.30 L276.60,684.50 Z" fill="#fff" stroke="#000" stroke-width="1.5" />
<path d="M270.20,678.30 H273.50 V672.30 H274.80 M271.70,678.30 V672.30 H273.50" fill="none" stroke="#000" stroke-width="1.15" />
<rect x="287.20" y="600.90" width="48.00" height="14.00" fill="#fff" stroke="#000" stroke-width="1.6" />
<text transform="translate(311.20,611.50) scale(1,1.07)" font-size="10" text-anchor="middle" >ENCODE</text>
<rect x="287.20" y="623.60" width="48.00" height="13.70" fill="#fff" stroke="#000" stroke-width="1.6" />
<text transform="translate(311.20,634.05) scale(1,1.07)" font-size="10" text-anchor="middle" >ENCODE</text>
<rect x="287.20" y="646.50" width="48.00" height="12.80" fill="#fff" stroke="#000" stroke-width="1.6" />
<text transform="translate(311.20,656.50) scale(1,1.07)" font-size="10" text-anchor="middle" >ENCODE</text>
<rect x="287.20" y="668.90" width="48.00" height="13.20" fill="#fff" stroke="#000" stroke-width="1.6" />
<text transform="translate(311.20,679.10) scale(1,1.07)" font-size="10" text-anchor="middle" >DECODE</text>
<circle cx="479.50" cy="607.60" r="2.2" fill="#000"/>
<line x1="479.50" y1="607.60" x2="479.50" y2="611.60" stroke="#000" stroke-width="1.5" />
<path d="M475.0,611.6 H483.8 L479.4,617.2 Z" fill="#fff" stroke="#000" stroke-width="1.0" />
<circle cx="479.5" cy="619.6" r="1.7" fill="#fff" stroke="#000" stroke-width="1.0"/>
<polyline points="479.50,621.40 479.50,687.80 399.50,687.80 399.50,682.20" fill="none" stroke="#000" stroke-width="1.5" />
<circle cx="479.50" cy="624.10" r="2.2" fill="#000"/>
<line x1="479.50" y1="624.10" x2="444.00" y2="624.10" stroke="#000" stroke-width="1.5" />
<circle cx="479.50" cy="640.60" r="2.2" fill="#000"/>
<polyline points="479.50,640.60 399.50,640.60 399.50,637.60" fill="none" stroke="#000" stroke-width="1.5" />
<circle cx="479.50" cy="646.30" r="2.2" fill="#000"/>
<line x1="479.50" y1="646.30" x2="444.00" y2="646.30" stroke="#000" stroke-width="1.5" />
<circle cx="479.50" cy="663.20" r="2.2" fill="#000"/>
<polyline points="479.50,663.20 399.50,663.20 399.50,659.90" fill="none" stroke="#000" stroke-width="1.5" />
<path d="M436.30,599.20 L451.20,607.60 L436.30,616.00 Z" fill="#fff" stroke="#000" stroke-width="1.5" />
<path d="M438.50,610.60 H441.80 V604.60 H443.10 M440.00,610.60 V604.60 H441.80" fill="none" stroke="#000" stroke-width="1.15" />
<path d="M436.30,622.20 L451.20,630.50 L436.30,638.80 Z" fill="#fff" stroke="#000" stroke-width="1.5" />
<path d="M438.50,633.50 H441.80 V627.50 H443.10 M440.00,633.50 V627.50 H441.80" fill="none" stroke="#000" stroke-width="1.15" />
<path d="M436.30,644.40 L451.20,652.70 L436.30,661.00 Z" fill="#fff" stroke="#000" stroke-width="1.5" />
<path d="M438.50,655.70 H441.80 V649.70 H443.10 M440.00,655.70 V649.70 H441.80" fill="none" stroke="#000" stroke-width="1.15" />
<path d="M450.50,666.50 L435.60,675.30 L450.50,684.10 Z" fill="#fff" stroke="#000" stroke-width="1.5" />
<path d="M444.10,678.30 H447.40 V672.30 H448.70 M445.60,678.30 V672.30 H447.40" fill="none" stroke="#000" stroke-width="1.15" />
<rect x="374.70" y="601.00" width="47.70" height="13.70" fill="#fff" stroke="#000" stroke-width="1.6" />
<text transform="translate(398.60,611.45) scale(1,1.07)" font-size="10" text-anchor="middle" >DECODE</text>
<rect x="374.70" y="623.90" width="47.70" height="13.70" fill="#fff" stroke="#000" stroke-width="1.6" />
<text transform="translate(398.60,634.35) scale(1,1.07)" font-size="10" text-anchor="middle" >DECODE</text>
<rect x="374.70" y="646.50" width="47.70" height="13.50" fill="#fff" stroke="#000" stroke-width="1.6" />
<text transform="translate(398.60,656.85) scale(1,1.07)" font-size="10" text-anchor="middle" >DECODE</text>
<rect x="374.70" y="668.80" width="47.70" height="13.50" fill="#fff" stroke="#000" stroke-width="1.6" />
<text transform="translate(398.60,679.15) scale(1,1.07)" font-size="10" text-anchor="middle" >ENCODE</text>
<rect x="341.00" y="597.40" width="27.30" height="20.90" fill="#fff" stroke="#000" stroke-width="1.6" />
<line x1="342.00" y1="599.10" x2="367.30" y2="599.10" stroke="#000" stroke-width="0.5" stroke-opacity="0.45"/>
<line x1="342.00" y1="616.60" x2="367.30" y2="616.60" stroke="#000" stroke-width="0.5" stroke-opacity="0.45"/>
<path d="M343.90,600.50 H351.60 a1.4,1.88 0 0 1 0,3.75 h-2.2 h2.2 a1.4,1.88 0 0 1 0,3.75 h-2.2 h2.2 a1.4,1.88 0 0 1 0,3.75 h-2.2 h2.2 a1.4,1.88 0 0 1 0,3.75 H343.90" fill="none" stroke="#000" stroke-width="1.05" />
<path d="M365.40,600.50 H357.20 a1.4,1.88 0 0 0 0,3.75 h2.2 h-2.2 a1.4,1.88 0 0 0 0,3.75 h2.2 h-2.2 a1.4,1.88 0 0 0 0,3.75 h2.2 h-2.2 a1.4,1.88 0 0 0 0,3.75 H365.40" fill="none" stroke="#000" stroke-width="1.05" />
<rect x="341.00" y="620.00" width="27.30" height="20.70" fill="#fff" stroke="#000" stroke-width="1.6" />
<line x1="342.00" y1="621.70" x2="367.30" y2="621.70" stroke="#000" stroke-width="0.5" stroke-opacity="0.45"/>
<line x1="342.00" y1="639.00" x2="367.30" y2="639.00" stroke="#000" stroke-width="0.5" stroke-opacity="0.45"/>
<path d="M343.90,623.10 H351.60 a1.4,1.85 0 0 1 0,3.70 h-2.2 h2.2 a1.4,1.85 0 0 1 0,3.70 h-2.2 h2.2 a1.4,1.85 0 0 1 0,3.70 h-2.2 h2.2 a1.4,1.85 0 0 1 0,3.70 H343.90" fill="none" stroke="#000" stroke-width="1.05" />
<path d="M365.40,623.10 H357.20 a1.4,1.85 0 0 0 0,3.70 h2.2 h-2.2 a1.4,1.85 0 0 0 0,3.70 h2.2 h-2.2 a1.4,1.85 0 0 0 0,3.70 h2.2 h-2.2 a1.4,1.85 0 0 0 0,3.70 H365.40" fill="none" stroke="#000" stroke-width="1.05" />
<rect x="341.00" y="642.60" width="27.30" height="20.70" fill="#fff" stroke="#000" stroke-width="1.6" />
<line x1="342.00" y1="644.30" x2="367.30" y2="644.30" stroke="#000" stroke-width="0.5" stroke-opacity="0.45"/>
<line x1="342.00" y1="661.60" x2="367.30" y2="661.60" stroke="#000" stroke-width="0.5" stroke-opacity="0.45"/>
<path d="M343.90,645.70 H351.60 a1.4,1.85 0 0 1 0,3.70 h-2.2 h2.2 a1.4,1.85 0 0 1 0,3.70 h-2.2 h2.2 a1.4,1.85 0 0 1 0,3.70 h-2.2 h2.2 a1.4,1.85 0 0 1 0,3.70 H343.90" fill="none" stroke="#000" stroke-width="1.05" />
<path d="M365.40,645.70 H357.20 a1.4,1.85 0 0 0 0,3.70 h2.2 h-2.2 a1.4,1.85 0 0 0 0,3.70 h2.2 h-2.2 a1.4,1.85 0 0 0 0,3.70 h2.2 h-2.2 a1.4,1.85 0 0 0 0,3.70 H365.40" fill="none" stroke="#000" stroke-width="1.05" />
<rect x="341.00" y="665.00" width="27.30" height="20.20" fill="#fff" stroke="#000" stroke-width="1.6" />
<line x1="342.00" y1="666.70" x2="367.30" y2="666.70" stroke="#000" stroke-width="0.5" stroke-opacity="0.45"/>
<line x1="342.00" y1="683.50" x2="367.30" y2="683.50" stroke="#000" stroke-width="0.5" stroke-opacity="0.45"/>
<path d="M343.90,668.10 H351.60 a1.4,1.79 0 0 1 0,3.58 h-2.2 h2.2 a1.4,1.79 0 0 1 0,3.58 h-2.2 h2.2 a1.4,1.79 0 0 1 0,3.58 h-2.2 h2.2 a1.4,1.79 0 0 1 0,3.58 H343.90" fill="none" stroke="#000" stroke-width="1.05" />
<path d="M365.40,668.10 H357.20 a1.4,1.79 0 0 0 0,3.58 h2.2 h-2.2 a1.4,1.79 0 0 0 0,3.58 h2.2 h-2.2 a1.4,1.79 0 0 0 0,3.58 h2.2 h-2.2 a1.4,1.79 0 0 0 0,3.58 H365.40" fill="none" stroke="#000" stroke-width="1.05" />
<circle cx="171.80" cy="216.00" r="6.65" fill="#fff" stroke="#000" stroke-width="1.5"/>
<text transform="translate(163.00,211.80) scale(1,1.07)" font-size="9.8" text-anchor="end" >VINP</text>
<circle cx="171.80" cy="251.50" r="6.65" fill="#fff" stroke="#000" stroke-width="1.5"/>
<text transform="translate(161.40,247.80) scale(1,1.07)" font-size="9.8" text-anchor="end" >EN</text>
<circle cx="171.80" cy="282.70" r="6.65" fill="#fff" stroke="#000" stroke-width="1.5"/>
<text transform="translate(163.00,279.30) scale(1,1.07)" font-size="9.8" text-anchor="end" >GNDP</text>
<circle cx="171.80" cy="307.70" r="6.65" fill="#fff" stroke="#000" stroke-width="1.5"/>
<text transform="translate(161.90,305.10) scale(1,1.07)" font-size="9.8" text-anchor="end" >PGNDP</text>
<circle cx="171.80" cy="334.00" r="6.65" fill="#fff" stroke="#000" stroke-width="1.5"/>
<text transform="translate(160.40,337.80) scale(1,1.07)" font-size="9.8" text-anchor="end" >SLEW</text>
<circle cx="171.80" cy="426.30" r="6.65" fill="#fff" stroke="#000" stroke-width="1.5"/>
<text transform="translate(161.20,422.40) scale(1,1.07)" font-size="9.8" text-anchor="end" >MVDD</text>
<circle cx="171.80" cy="456.90" r="6.65" fill="#fff" stroke="#000" stroke-width="1.5"/>
<text transform="translate(162.00,451.90) scale(1,1.07)" font-size="9.8" text-anchor="end" >MGND</text>
<circle cx="171.80" cy="519.10" r="6.65" fill="#fff" stroke="#000" stroke-width="1.5"/>
<text transform="translate(161.90,522.40) scale(1,1.07)" font-size="9.8" text-anchor="end" >MGPO3</text>
<circle cx="171.80" cy="541.30" r="6.65" fill="#fff" stroke="#000" stroke-width="1.5"/>
<text transform="translate(161.90,544.60) scale(1,1.07)" font-size="9.8" text-anchor="end" >MGPI2</text>
<circle cx="171.80" cy="564.60" r="6.65" fill="#fff" stroke="#000" stroke-width="1.5"/>
<text transform="translate(161.90,568.00) scale(1,1.07)" font-size="9.8" text-anchor="end" >MGPO1</text>
<circle cx="171.80" cy="630.40" r="6.65" fill="#fff" stroke="#000" stroke-width="1.5"/>
<text transform="translate(161.90,633.80) scale(1,1.07)" font-size="9.8" text-anchor="end" >MCK</text>
<circle cx="171.80" cy="652.60" r="6.65" fill="#fff" stroke="#000" stroke-width="1.5"/>
<text transform="translate(161.90,656.50) scale(1,1.07)" font-size="9.8" text-anchor="end" >MO</text>
<circle cx="171.80" cy="675.20" r="6.65" fill="#fff" stroke="#000" stroke-width="1.5"/>
<text transform="translate(161.90,678.70) scale(1,1.07)" font-size="9.8" text-anchor="end" >MI</text>
<circle cx="171.80" cy="702.40" r="6.65" fill="#fff" stroke="#000" stroke-width="1.5"/>
<text transform="translate(162.00,697.00) scale(1,1.07)" font-size="9.8" text-anchor="end" >MGND</text>
<circle cx="171.80" cy="607.60" r="6.65" fill="#fff" stroke="#000" stroke-width="1.5"/>
<text transform="translate(161.20,611.50) scale(1,1.07)" font-size="9.8" text-anchor="end" >MSS</text>
<line x1="141.00" y1="602.70" x2="161.20" y2="602.70" stroke="#000" stroke-width="1.0" />
<circle cx="206.30" cy="116.30" r="6.65" fill="#fff" stroke="#000" stroke-width="1.5"/>
<circle cx="426.80" cy="116.60" r="6.65" fill="#fff" stroke="#000" stroke-width="1.5"/>
<text transform="translate(438.60,112.00) scale(1,1.07)" font-size="9.8" text-anchor="start" >FB1</text>
<circle cx="560.30" cy="135.20" r="6.65" fill="#fff" stroke="#000" stroke-width="1.5"/>
<text transform="translate(567.20,127.30) scale(1,1.07)" font-size="9.8" text-anchor="start" >VOUT1</text>
<circle cx="560.30" cy="160.60" r="6.65" fill="#fff" stroke="#000" stroke-width="1.5"/>
<text transform="translate(569.70,163.90) scale(1,1.07)" font-size="9.8" text-anchor="start" >PPC_IN</text>
<circle cx="560.30" cy="187.60" r="6.65" fill="#fff" stroke="#000" stroke-width="1.5"/>
<text transform="translate(570.30,191.00) scale(1,1.07)" font-size="9.8" text-anchor="start" >SYNC</text>
<circle cx="560.30" cy="231.80" r="6.65" fill="#fff" stroke="#000" stroke-width="1.5"/>
<text transform="translate(569.40,224.70) scale(1,1.07)" font-size="9.8" text-anchor="start" >VOUT2</text>
<circle cx="560.30" cy="266.00" r="6.65" fill="#fff" stroke="#000" stroke-width="1.5"/>
<text transform="translate(570.60,261.70) scale(1,1.07)" font-size="9.8" text-anchor="start" >SW2</text>
<circle cx="560.30" cy="353.00" r="6.65" fill="#fff" stroke="#000" stroke-width="1.5"/>
<text transform="translate(570.00,349.30) scale(1,1.07)" font-size="9.8" text-anchor="start" >SW3</text>
<circle cx="560.30" cy="389.20" r="6.65" fill="#fff" stroke="#000" stroke-width="1.5"/>
<text transform="translate(570.60,385.60) scale(1,1.07)" font-size="9.8" text-anchor="start" >FB3</text>
<circle cx="560.30" cy="420.20" r="6.65" fill="#fff" stroke="#000" stroke-width="1.5"/>
<text transform="translate(570.60,416.50) scale(1,1.07)" font-size="9.8" text-anchor="start" >VOUT3</text>
<circle cx="560.30" cy="452.20" r="6.65" fill="#fff" stroke="#000" stroke-width="1.5"/>
<text transform="translate(567.80,447.80) scale(1,1.07)" font-size="9.8" text-anchor="start" >SVDD2</text>
<circle cx="560.30" cy="482.30" r="6.65" fill="#fff" stroke="#000" stroke-width="1.5"/>
<text transform="translate(568.60,477.70) scale(1,1.07)" font-size="9.8" text-anchor="start" >SGND2</text>
<circle cx="560.30" cy="518.90" r="6.65" fill="#fff" stroke="#000" stroke-width="1.5"/>
<text transform="translate(570.60,522.20) scale(1,1.07)" font-size="9.8" text-anchor="start" >SGPI3</text>
<circle cx="560.30" cy="539.90" r="6.65" fill="#fff" stroke="#000" stroke-width="1.5"/>
<text transform="translate(570.60,543.60) scale(1,1.07)" font-size="9.8" text-anchor="start" >SGPO2</text>
<circle cx="560.30" cy="561.10" r="6.65" fill="#fff" stroke="#000" stroke-width="1.5"/>
<text transform="translate(570.60,562.80) scale(1,1.07)" font-size="9.8" text-anchor="start" >SGPI1</text>
<circle cx="560.30" cy="587.00" r="6.65" fill="#fff" stroke="#000" stroke-width="1.5"/>
<text transform="translate(570.60,582.60) scale(1,1.07)" font-size="9.8" text-anchor="start" >SVDD1</text>
<circle cx="560.30" cy="630.30" r="6.65" fill="#fff" stroke="#000" stroke-width="1.5"/>
<text transform="translate(570.60,634.00) scale(1,1.07)" font-size="9.8" text-anchor="start" >SCK</text>
<circle cx="560.30" cy="653.00" r="6.65" fill="#fff" stroke="#000" stroke-width="1.5"/>
<text transform="translate(570.60,656.30) scale(1,1.07)" font-size="9.8" text-anchor="start" >SI</text>
<circle cx="560.30" cy="674.80" r="6.65" fill="#fff" stroke="#000" stroke-width="1.5"/>
<text transform="translate(570.60,678.00) scale(1,1.07)" font-size="9.8" text-anchor="start" >SO</text>
<circle cx="560.30" cy="699.30" r="6.65" fill="#fff" stroke="#000" stroke-width="1.5"/>
<text transform="translate(570.60,693.70) scale(1,1.07)" font-size="9.8" text-anchor="start" >SGND1</text>
<circle cx="560.30" cy="607.80" r="6.65" fill="#fff" stroke="#000" stroke-width="1.5"/>
<text transform="translate(570.60,611.80) scale(1,1.07)" font-size="9.8" text-anchor="start" >SSS</text>
<line x1="570.80" y1="603.00" x2="590.00" y2="603.00" stroke="#000" stroke-width="1.0" />
<text transform="translate(77.60,737.80) scale(1,1.07)" font-size="9.8" text-anchor="start" >NOTES</text>
<text transform="translate(77.6,750.0) scale(1,1.07)" font-size="9.8">1. C<tspan dy="3.0">FLYBK</tspan></text>
<text transform="translate(131.6,750.0) scale(1,1.07)" font-size="9.8" textLength="294.2" lengthAdjust="spacingAndGlyphs">IS THE FLYBACK REGULATOR OUTPUT CAPACITOR VALUE.</text>
<text transform="translate(77.6,762.0) scale(1,1.07)" font-size="9.8">2. C<tspan dy="3.0">BUCK</tspan></text>
<text transform="translate(127.0,762.0) scale(1,1.07)" font-size="9.8" textLength="275.4" lengthAdjust="spacingAndGlyphs">IS THE BUCK REGULATOR OUTPUT CAPACITOR VALUE.</text>
<text transform="translate(77.6,773.7) scale(1,1.07)" font-size="9.8">3. C<tspan dy="3.0">INV</tspan></text>
<text transform="translate(114.9,773.7) scale(1,1.07)" font-size="9.8" textLength="299.3" lengthAdjust="spacingAndGlyphs">IS THE INVERTING REGULATOR OUTPUT CAPACITOR VALUE.</text>
</svg>
</body></html>
